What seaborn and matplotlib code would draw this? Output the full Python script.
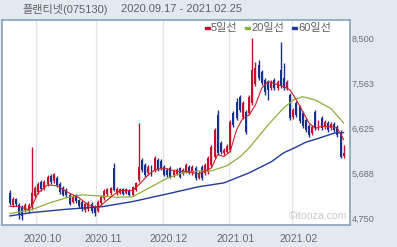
import numpy as np
import pandas as pd
import matplotlib
matplotlib.use("Agg")
import matplotlib.pyplot as plt
from matplotlib.patches import Rectangle
import seaborn as sns

# ---------------- data ----------------
holidays = ["2020-09-30", "2020-10-01", "2020-10-02", "2020-10-09", "2020-12-25",
            "2020-12-31", "2021-01-01", "2021-02-11", "2021-02-12"]
dates = pd.bdate_range("2020-09-17", "2021-02-25")
dates = dates[~dates.isin(pd.to_datetime(holidays))]

open_ = [5300, 5050, 5180, 5050, 5010, 4950, 4930, 5010, 5240, 5330,
         5530, 5410, 5490, 5660, 5550, 5620, 5490, 5410, 5370, 5260,
         5120, 5260, 5160, 5120, 4950, 4970, 5070, 5010, 4930, 5100,
         5200, 5280, 5300, 5830, 5300, 5300, 5390, 5300, 5370, 5260,
         5370, 5580, 5990, 5890, 5720, 5850, 5780, 5990, 5970, 5850,
         5780, 5830, 5680, 5700, 5830, 5720, 5740, 5850, 5720, 5830,
         5620, 5850, 5720, 5740, 5890, 6050, 6930, 6350, 6140, 6160,
         6200, 6970, 7200, 7310, 6890, 6990, 6970, 7180, 7580, 7970,
         7830, 7660, 7620, 7490, 7660, 7490, 7870, 7700, 7490, 7350,
         6890, 7180, 7100, 6970, 6830, 6700, 6560, 6990, 6660, 6870,
         6680, 6760, 6660, 6740, 6680, 6560, 6080]
high = [5370, 5220, 5200, 5100, 5050, 5100, 5100, 6260, 5450, 5530,
        5580, 5580, 5680, 5700, 5720, 5660, 5530, 5450, 5410, 5300,
        5260, 5280, 5180, 5160, 5120, 5140, 5120, 5050, 5160, 5260,
        5390, 5410, 5430, 5930, 5430, 5410, 5410, 5410, 5390, 5450,
        5530, 6760, 6030, 5930, 5890, 5890, 6080, 6030, 6010, 5890,
        5830, 5870, 5800, 5830, 5850, 5830, 5930, 5890, 5890, 5870,
        5760, 5890, 5930, 6080, 6300, 6660, 7030, 6390, 6240, 6330,
        6830, 7010, 7290, 7350, 7220, 7030, 7350, 8540, 8040, 8080,
        7870, 7700, 7660, 7660, 7700, 7660, 8450, 8010, 7660, 7390,
        7080, 7220, 7140, 7010, 6870, 6740, 6720, 7030, 6830, 6910,
        6830, 6810, 6780, 6780, 6720, 6620, 6300]
low = [5050, 5010, 5030, 4760, 4740, 4910, 4890, 4950, 5200, 5280,
       5350, 5370, 5450, 5490, 5510, 5430, 5280, 5240, 5220, 5050,
       5100, 5100, 4990, 4930, 4910, 4930, 4890, 4820, 4910, 5050,
       5160, 5240, 5260, 5350, 5260, 5280, 5260, 5280, 5240, 5240,
       5350, 5530, 5740, 5640, 5680, 5660, 5740, 5760, 5780, 5660,
       5640, 5620, 5640, 5680, 5620, 5680, 5720, 5700, 5680, 5580,
       5600, 5580, 5680, 5700, 5850, 6030, 6100, 6120, 6100, 6140,
       6160, 6680, 6830, 6990, 6850, 6530, 6930, 7140, 7540, 7660,
       7560, 7350, 7240, 7450, 7450, 7450, 7490, 7450, 7450, 6830,
       6850, 6890, 6760, 6660, 6580, 6470, 6510, 6620, 6620, 6620,
       6640, 6580, 6620, 6580, 6470, 6030, 6030]
close = [5100, 5180, 5070, 4870, 4820, 5050, 5050, 5300, 5410, 5490,
         5390, 5530, 5640, 5530, 5700, 5470, 5330, 5260, 5260, 5070,
         5220, 5140, 5030, 4970, 5070, 5100, 4930, 4890, 5120, 5220,
         5350, 5390, 5410, 5370, 5390, 5390, 5280, 5390, 5260, 5430,
         5510, 5850, 5780, 5680, 5850, 5700, 6030, 5780, 5830, 5680,
         5680, 5640, 5780, 5780, 5640, 5780, 5890, 5720, 5850, 5620,
         5720, 5620, 5890, 6030, 6260, 6620, 6140, 6160, 6200, 6280,
         6780, 6720, 6870, 7030, 7180, 6580, 7310, 7870, 7910, 7700,
         7600, 7410, 7450, 7620, 7490, 7620, 7540, 7490, 7620, 6870,
         7030, 6930, 6810, 6700, 6620, 6510, 6680, 6660, 6780, 6660,
         6780, 6620, 6740, 6620, 6510, 6050, 6140]

ma5_idx = [0, 3, 6, 7, 9, 12, 15, 18, 22, 25, 28, 30, 33, 35, 39, 41, 44, 46, 49, 53,
           56, 60, 64, 66, 68, 70, 72, 74, 76, 78, 80, 82, 85, 87, 89, 91, 93, 95, 97,
           99, 102, 104, 106]
ma5_val = [5020, 5020, 4950, 5020, 5300, 5470, 5450, 5330, 5200, 5050, 4990, 5100, 5260,
           5350, 5350, 5470, 5680, 5780, 5820, 5750, 5750, 5700, 5820, 6100, 6060, 6170,
           6620, 6860, 6930, 7140, 7490, 7630, 7560, 7520, 7450, 7240, 7000, 6760, 6650,
           6690, 6690, 6650, 6410]
ma20_idx = [0, 7, 13, 18, 23, 28, 34, 39, 45, 50, 55, 60, 64, 69, 73, 76, 82, 87, 90, 93,
            97, 102, 106]
ma20_val = [4870, 4950, 5100, 5200, 5260, 5240, 5210, 5220, 5430, 5610, 5720, 5760, 5760,
            5870, 6050, 6240, 6720, 7080, 7240, 7310, 7240, 7060, 6760]
ma60_idx = [0, 7, 18, 29, 39, 50, 60, 68, 76, 83, 87, 91, 94, 98, 103, 106]
ma60_val = [4820, 4890, 4960, 5010, 5120, 5280, 5430, 5510, 5720, 5950, 6140, 6260, 6360,
            6440, 6550, 6560]

y_ticks = [8500, 7563, 6625, 5688, 4750]
title_name = "플랜티넷(075130)"
title_range = "2020.09.17 - 2021.02.25"
legend_labels = ["5일선", "20일선", "60일선"]

# ---------------- style ----------------
sns.set_style("white")
plt.rcParams["font.family"] = ["Liberation Sans", "Noto Sans CJK KR", "DejaVu Sans"]

RED = "#c8102e"
BLUE = "#15308f"
C5 = "#d0202a"
C20 = "#8db03c"
C60 = "#1f3b9c"
BG = "#e3e9f1"
TXT = "#606060"

W, H = 397, 247
fig = plt.figure(figsize=(W / 100, H / 100), dpi=100)
fig.patch.set_facecolor(BG)
ax = fig.add_axes([1.5 / W, 1 - 225 / H, 348.5 / W, 205 / H])
ax.set_facecolor("white")

n = len(close)
x = np.arange(n)
o = np.array(open_, float)
c = np.array(close, float)
up = c >= o
cols = np.where(up, RED, BLUE)

# month grid lines
months = pd.Series(dates.month)
first_idx = [i for i in range(1, n) if months[i] != months[i - 1]]
for i in first_idx:
    ax.axvline(i - 0.5, color="#e6e6e6", lw=1, zorder=0)

# candles
ax.vlines(x, low, high, colors=cols, linewidth=1, zorder=2)
ax.bar(x, np.maximum(np.abs(c - o), 25), bottom=np.minimum(o, c), width=0.62,
       color=cols, linewidth=0, zorder=3)

# moving averages
sns.lineplot(x=ma60_idx, y=ma60_val, color=C60, lw=1, ax=ax, zorder=4)
sns.lineplot(x=ma20_idx, y=ma20_val, color=C20, lw=0.9, ax=ax, zorder=4)
sns.lineplot(x=ma5_idx, y=ma5_val, color=C5, lw=0.8, ax=ax, zorder=5)

ax.set_xlim(-2.6, 108.0)
ax.set_ylim(4631, 8911)
ax.set_xticks([])
ax.set_yticks([])
ax.set_xlabel("")
ax.set_ylabel("")
for s in ax.spines.values():
    s.set_color("#8aa0b9")
    s.set_linewidth(1.2)

# y labels on the right
for v in y_ticks:
    ax.text(1.005, (v - 4631) / (8911 - 4631), f"{v:,}", transform=ax.transAxes,
            ha="left", va="center", fontsize=6.6, color="#707070", clip_on=False)

# x labels
for i in first_idx:
    d = dates[i]
    ax.text(i + 1.55, -0.045, f"{d.year}.{d.month:02d}", transform=ax.get_xaxis_transform(),
            ha="center", va="top", fontsize=7.7, color="#6a6a6a", clip_on=False)

# title
fig.text(22 / W, 1 - 9.5 / H, title_name, ha="left", va="center", fontsize=8, color=TXT)
fig.text(121.5 / W, 1 - 9.5 / H, title_range, ha="left", va="center", fontsize=8, color=TXT)

# legend
leg_x = [205, 245, 292]
leg_c = [RED, C20, C60]
for lx, lc, lab in zip(leg_x, leg_c, legend_labels):
    fig.patches.append(Rectangle((lx / W, 1 - 29.5 / H), 5 / W, 2.5 / H,
                                 transform=fig.transFigure, color=lc, figure=fig))
    fig.text((lx + 6) / W, 1 - 28.5 / H, lab, ha="left", va="center", fontsize=8, color=TXT)

# watermark
fig.text(347 / W, 1 - 216 / H, "©itooza.com", ha="right", va="center",
         fontsize=7.6, color="#c8c8c8")

fig.savefig("out.png", dpi=100, facecolor=BG)
